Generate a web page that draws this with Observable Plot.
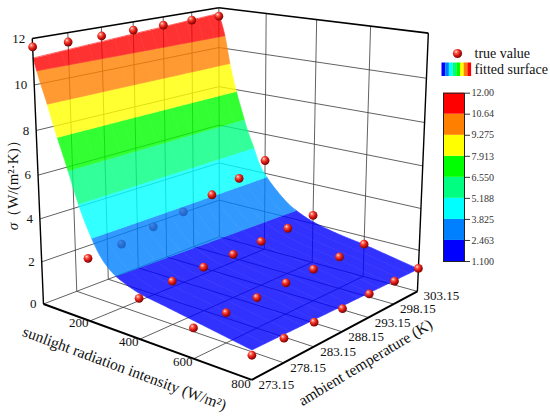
<!DOCTYPE html>
<html><head><meta charset="utf-8">
<script src="https://cdn.jsdelivr.net/npm/d3@7"></script>
<script src="https://cdn.jsdelivr.net/npm/@observablehq/plot@0.6"></script>
<style>
body{margin:0;background:#fff;}
#wrap{position:relative;width:550px;height:417px;overflow:hidden;}
#wrap svg{position:absolute;}
</style></head><body><div id="wrap"></div>
<script>
// ---------------- data ----------------
const sunlight = [0, 200, 400, 600, 800];
const temperature = [273.15, 278.15, 283.15, 288.15, 293.15, 298.15, 303.15];
const sigmaAt0   = [11.64, 11.59, 11.60, 11.62, 11.61, 11.62, 11.58];
const sigmaAt200 = [2.87, 2.97, 3.25, 3.46, 3.82, 4.18, 4.66];
const sigmaAt400 = [1.82, 1.98, 2.04, 2.08, 2.16, 2.28, 2.42];
const sigmaAt600 = [1.33, 1.34, 1.39, 1.46, 1.52, 1.54, 1.62];
const sigmaAt800 = [1.03, 1.06, 1.09, 1.05, 1.10, 1.10, 1.12];
const trueRows = [sigmaAt0, sigmaAt200, sigmaAt400, sigmaAt600, sigmaAt800];

// fitted surface, read along its two edges
const fitSunlight = [0, 25, 50, 75, 100, 125, 150, 175, 200, 250, 300, 350, 400, 500, 600, 700, 800];
const fitAt273 = [11.15, 10.2, 9.35, 8.4, 7.55, 6.7, 5.8, 4.95, 4.25, 3.15, 2.55, 2.25, 2.05, 1.85, 1.65, 1.45, 1.25];
const fitAt303 = [11.7, 10.7, 9.15, 7.95, 6.95, 6.0, 5.25, 4.45, 3.95, 3.25, 2.7, 2.35, 2.1, 1.8, 1.6, 1.35, 1.1];

// colour levels
const levels = [1.1, 2.463, 3.825, 5.188, 6.55, 7.913, 9.275, 10.64, 12];
const levelLabels = ["1.100", "2.463", "3.825", "5.188", "6.550", "7.913", "9.275", "10.64", "12.00"];
const bandColors = ["#0000ff", "#0080ff", "#00ffff", "#00ff80", "#00ff00", "#ffff00", "#ff8000", "#ff0000"];

// ticks
const zTicks = [0, 2, 4, 6, 8, 10, 12];
const sTicks = [200, 400, 600, 800];
const tTicks = temperature;
const tTickLabels = ["273.15", "278.15", "283.15", "288.15", "293.15", "298.15", "303.15"];

// ---------------- projection (box corners on the page) ----------------
const S0 = 0, S1 = 800, T0 = 273.15, T1 = 303.15, Z1 = 12;
const frameCalib = [
  [0,0,0, 43,303],[0,1,0, 219,237],[1,1,0, 417,290],[1,0,0, 251,380],
  [0,0,1, 32,38],[0,1,1, 218,7],[1,1,1, 428,33]
];
function solveDLT(pts){
  const rows=[], rhs=[];
  for (const [X,Y,Z,u,v] of pts){
    rows.push([X,Y,Z,1,0,0,0,0,-u*X,-u*Y,-u*Z]); rhs.push(u);
    rows.push([0,0,0,0,X,Y,Z,1,-v*X,-v*Y,-v*Z]); rhs.push(v);
  }
  const n=11, M=Array.from({length:n},()=>new Array(n+1).fill(0));
  rows.forEach((r,k)=>{for(let i=0;i<n;i++){for(let j=0;j<n;j++)M[i][j]+=r[i]*r[j];M[i][n]+=r[i]*rhs[k];}});
  for(let c=0;c<n;c++){
    let p=c; for(let r=c+1;r<n;r++) if(Math.abs(M[r][c])>Math.abs(M[p][c])) p=r;
    [M[c],M[p]]=[M[p],M[c]];
    for(let r=0;r<n;r++){ if(r===c) continue; const f=M[r][c]/M[c][c]; for(let k=c;k<=n;k++) M[r][k]-=f*M[c][k]; }
  }
  return M.map((r,i)=>r[n]/r[i]);
}
const pm = solveDLT(frameCalib);
function proj(X,Y,Z){
  const w = pm[8]*X+pm[9]*Y+pm[10]*Z+1;
  return [(pm[0]*X+pm[1]*Y+pm[2]*Z+pm[3])/w, (pm[4]*X+pm[5]*Y+pm[6]*Z+pm[7])/w];
}
const P = (S,T,s) => proj((S-S0)/(S1-S0),(T-T0)/(T1-T0),s/Z1);

// ---------------- smooth surface rendering ----------------
function monotone(xs, ys){
  const n=xs.length, d=[], m=new Array(n);
  for(let i=0;i<n-1;i++) d[i]=(ys[i+1]-ys[i])/(xs[i+1]-xs[i]);
  m[0]=d[0]; m[n-1]=d[n-2];
  for(let i=1;i<n-1;i++) m[i] = d[i-1]*d[i]<=0 ? 0 : (d[i-1]+d[i])/2;
  for(let i=0;i<n-1;i++){
    if(d[i]===0){m[i]=m[i+1]=0;continue;}
    const a=m[i]/d[i], b=m[i+1]/d[i], s=a*a+b*b;
    if(s>9){const t=3/Math.sqrt(s); m[i]=t*a*d[i]; m[i+1]=t*b*d[i];}
  }
  return x=>{
    let i=0; while(i<n-2 && x>xs[i+1]) i++;
    const h=xs[i+1]-xs[i], t=(x-xs[i])/h, t2=t*t, t3=t2*t;
    return (2*t3-3*t2+1)*ys[i]+(t3-2*t2+t)*h*m[i]+(-2*t3+3*t2)*ys[i+1]+(t3-t2)*h*m[i+1];
  };
}
const f273 = monotone(fitSunlight, fitAt273), f303 = monotone(fitSunlight, fitAt303);
const sig = (S, Y) => (1-Y)*f273(S) + Y*f303(S);
function crossing(Y, level){
  if (sig(S0,Y) <= level) return S0;
  if (sig(S1,Y) >= level - 1e-9) return S1;
  let a=S0, b=S1;
  for(let k=0;k<50;k++){ const c=(a+b)/2; if(sig(c,Y)>level) a=c; else b=c; }
  return (a+b)/2;
}
const nStrip = 15, sStep = 4;
const surfacePts = [];
let pid = 0;
for(let j=0;j<nStrip;j++){
  const Ya=j/nStrip, Yb=(j+1)/nStrip;
  for(let b=0;b<bandColors.length;b++){
    const lo=levels[b], hi=levels[b+1];
    const a1=crossing(Ya,hi), a2=crossing(Ya,lo), b1=crossing(Yb,hi), b2=crossing(Yb,lo);
    if(a2-a1<1e-6 && b2-b1<1e-6) continue;
    const ring=[];
    const edge=(Y,s1,s2,rev)=>{
      const ss=[s1]; for(let s=Math.ceil(s1/sStep)*sStep; s<s2; s+=sStep) if(s>s1) ss.push(s); ss.push(s2);
      if(rev) ss.reverse();
      for(const s of ss) ring.push([s,Y]);
    };
    edge(Ya,a1,a2,false); edge(Yb,b1,b2,true);
    for(const [s,Y] of ring){
      const [x,y]=proj((s-S0)/(S1-S0),Y,sig(s,Y)/Z1);
      surfacePts.push({x,y,id:pid,color:bandColors[b]});
    }
    pid++;
  }
}

// ---------------- true value points ----------------
const dots = [];
sunlight.forEach((S,i)=>temperature.forEach((T,k)=>{
  const v=trueRows[i][k], [x,y]=P(S,T,v);
  const surf = sig(S,(T-T0)/(T1-T0));
  dots.push({x,y,hidden: surf - v > 0.5});
}));

// ---------------- grid & frame ----------------
const seg=(a,b,w)=>({x1:a[0],y1:a[1],x2:b[0],y2:b[1],w});
const grid=[];
for(const z of zTicks.slice(0,-1)){ grid.push(seg(P(S0,T0,z),P(S0,T1,z))); grid.push(seg(P(S0,T1,z),P(S1,T1,z))); }
for(const T of tTicks.slice(1,-1)){ grid.push(seg(P(S0,T,0),P(S0,T,Z1))); grid.push(seg(P(S0,T,0),P(S1,T,0))); }
for(const S of sTicks.slice(0,-1)){ grid.push(seg(P(S,T1,0),P(S,T1,Z1))); grid.push(seg(P(S,T0,0),P(S,T1,0))); }
grid.push(seg(P(S0,T1,0),P(S0,T1,Z1)));
const frame=[
  seg(P(S0,T0,Z1),P(S0,T1,Z1),1.6), seg(P(S0,T1,Z1),P(S1,T1,Z1),1.6),
  seg(P(S0,T0,0),P(S0,T0,Z1),1.4), seg(P(S1,T1,0),P(S1,T1,Z1),1.4),
  seg(P(S0,T0,0),P(S1,T0,0),2), seg(P(S1,T0,0),P(S1,T1,0),2)
];

const serif = "Liberation Serif, Times New Roman, serif";
const legendStripes = bandColors.map((c,i)=>({i,c}));

const main = Plot.plot({
  width:550, height:417, margin:0,
  x:{domain:[0,550], range:[0,550], axis:null},
  y:{domain:[0,417], range:[0,417], axis:null},
  color:{type:"identity"},
  style:{background:"transparent", overflow:"visible"},
  marks:[
    Plot.link(grid,{x1:"x1",y1:"y1",x2:"x2",y2:"y2",stroke:"#3a3a3a",strokeWidth:0.8}),
    Plot.dot(dots.filter(d=>d.hidden),{x:"x",y:"y",r:4.4,fill:"url(#ball)"}),
    Plot.line(surfacePts,{x:"x",y:"y",z:"id",fill:"color",stroke:"color",strokeWidth:0.7,curve:"linear-closed"}),
    Plot.link(frame,{x1:"x1",y1:"y1",x2:"x2",y2:"y2",stroke:"#000",strokeWidth:"w"}),
    Plot.dot(dots.filter(d=>!d.hidden),{x:"x",y:"y",r:4.4,fill:"url(#ball)"}),
    // tick labels
    Plot.text(zTicks,{x:d=>P(S0,T0,d)[0]-7,y:d=>P(S0,T0,d)[1],text:d=>String(d),textAnchor:"end",fontSize:13,fontFamily:serif,fill:"#111"}),
    Plot.text(sTicks,{x:d=>P(d,T0-2.2,0)[0],y:d=>P(d,T0-2.2,0)[1],text:d=>String(d),dx:4,dy:-4,fontSize:13,fontFamily:serif,fill:"#111"}),
    Plot.text(tTicks,{x:d=>P(S1+22,d,0)[0],y:d=>P(S1+22,d,0)[1],text:(d,i)=>tTickLabels[i],dy:3,textAnchor:"start",fontSize:13,fontFamily:serif,fill:"#111"}),
    // axis titles
    Plot.text(["sunlight radiation intensity (W/m²)"],{x:()=>124,y:()=>368,text:d=>d,rotate:20.3,fontSize:15.5,fontFamily:serif,fill:"#111"}),
    Plot.text(["ambient temperature (K)"],{x:()=>365,y:()=>362,text:d=>d,rotate:-31,fontSize:15.5,fontFamily:serif,fill:"#111"}),
    Plot.text(["σ"],{x:()=>13,y:()=>226,text:d=>d,rotate:-90,fontSize:15,fontStyle:"italic",fontFamily:serif,fill:"#111"}),
    Plot.text(["（W/(m²·K)）"],{x:()=>13,y:()=>178,text:d=>d,rotate:-90,fontSize:15,fontFamily:serif,fill:"#111"}),
    // legend
    Plot.dot([0],{x:()=>457,y:()=>53,r:4.6,fill:"url(#ball)"}),
    Plot.text(["true value"],{x:()=>474,y:()=>53,text:d=>d,textAnchor:"start",fontSize:14,fontFamily:serif,fill:"#111"}),
    Plot.rect(legendStripes,{x1:d=>441.5+d.i*3.7,x2:d=>441.5+(d.i+1)*3.7,y1:()=>62.5,y2:()=>76,fill:"c"}),
    Plot.text(["fitted surface"],{x:()=>474,y:()=>69,text:d=>d,textAnchor:"start",fontSize:14,fontFamily:serif,fill:"#111"})
  ]
});
const svg = d3.select(main);
svg.selectAll("g").filter(function(){
  const p=this.querySelector(":scope > path");
  return p && bandColors.includes((p.getAttribute("fill")||"").toLowerCase());
}).attr("opacity",0.8);
const defs = svg.insert("defs",":first-child");
const g = defs.append("radialGradient").attr("id","ball").attr("cx","38%").attr("cy","35%").attr("r","70%").attr("fx","35%").attr("fy","30%");
[["0%","#fff0ea"],["22%","#ff6a5a"],["55%","#dd1a14"],["100%","#6a0000"]].forEach(([o,c])=>g.append("stop").attr("offset",o).attr("stop-color",c));
main.style.left="0px"; main.style.top="0px";
document.getElementById("wrap").appendChild(main);

// ---------------- colour bar ----------------
const bands = bandColors.map((c,i)=>({lo:levels[i],hi:levels[i+1],c}));
const cb = Plot.plot({
  width:120, height:200, marginLeft:13, marginRight:86, marginTop:12.7, marginBottom:19,
  x:{domain:[0,1], axis:null},
  y:{domain:[levels[0],levels[levels.length-1]], axis:"right", ticks:levels, tickFormat:d=>levelLabels[levels.indexOf(d)], tickSize:5, tickPadding:2, label:null},
  color:{type:"identity"},
  style:{background:"transparent", fontFamily:serif, fontSize:"10px", color:"#333", overflow:"visible"},
  marks:[
    Plot.rect(bands,{x1:0,x2:1,y1:"lo",y2:"hi",fill:"c"}),
    Plot.frame({stroke:"#222",strokeWidth:1})
  ]
});
cb.style.left="430px"; cb.style.top="80px";
document.getElementById("wrap").appendChild(cb);
</script></body></html>
